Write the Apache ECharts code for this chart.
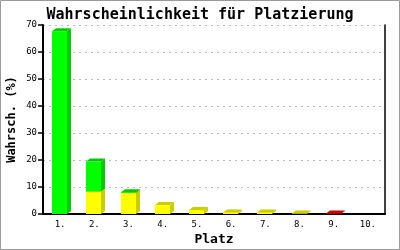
<!DOCTYPE html>
<html>
<head>
<meta charset="utf-8">
<script src="https://cdn.jsdelivr.net/npm/echarts@6/dist/echarts.min.js"></script>
<style>
html,body{margin:0;padding:0;background:#fff;}
#chart{width:400px;height:250px;}
</style>
</head>
<body>
<div id="chart"></div>
<script>
const categories = ['1.', '2.', '3.', '4.', '5.', '6.', '7.', '8.', '9.', '10.'];
const yellowValues = [0, 8.3, 7.8, 3.3, 1.5, 0.6, 0.6, 0.2, 0, 0];
const greenValues = [67.7, 11.1, 0.3, 0, 0, 0, 0, 0, 0, 0];
const redValues = [0, 0, 0, 0, 0, 0, 0, 0, 0.2, 0];
const yTicks = [0, 10, 20, 30, 40, 50, 60, 70];

const segStyles = [
  { front: '#ffff00', dark: '#cccc00' },
  { front: '#00ff00', dark: '#00cc00' },
  { front: '#ff0000', dark: '#cc0000' }
];

const data = categories.map((c, i) => [i, yellowValues[i], greenValues[i], redValues[i]]);

const MONO = '"DejaVu Sans Mono", "Liberation Mono", monospace';

function renderItem(params, api) {
  const idx = api.value(0);
  const bandW = api.size([1, 0])[0];
  const center = api.coord([idx, 0])[0];
  const fw = Math.round(bandW * 0.44);
  const left = Math.round(center - fw / 2 - 0.5);
  const right = left + fw;
  const dx = 4, dy = 3;
  const children = [];
  let base = 0;
  for (let s = 0; s < 3; s++) {
    const v = api.value(s + 1);
    if (!(v > 0)) continue;
    const y0 = api.coord([idx, base])[1];
    const y1 = api.coord([idx, base + v])[1];
    const st = segStyles[s];
    children.push({
      type: 'rect',
      shape: { x: left, y: y1, width: fw, height: y0 - y1 },
      style: { fill: st.front }
    });
    children.push({
      type: 'polygon',
      shape: { points: [[right, y0], [right, y1], [right + dx, y1 - dy], [right + dx, y0 - dy]] },
      style: { fill: st.dark }
    });
    children.push({
      type: 'polygon',
      shape: { points: [[left, y1], [left + dx, y1 - dy], [right + dx, y1 - dy], [right, y1]] },
      style: { fill: st.dark }
    });
    base += v;
  }
  return { type: 'group', children: children };
}

const chart = echarts.init(document.getElementById('chart'), null, { renderer: 'canvas' });
chart.setOption({
  animation: false,
  backgroundColor: '#ffffff',
  title: {
    text: 'Wahrscheinlichkeit für Platzierung',
    left: 'center',
    top: 3,
    textStyle: { fontFamily: MONO, fontWeight: 'bold', fontSize: 15, color: '#000' }
  },
  graphic: [{
    type: 'rect',
    shape: { x: 0.5, y: 0.5, width: 399, height: 249 },
    style: { fill: 'none', stroke: '#999999', lineWidth: 1 },
    silent: true
  }],
  grid: { left: 43, right: 15, top: 25, bottom: 36, containLabel: false, outerBoundsMode: 'none' },
  xAxis: {
    type: 'category',
    data: categories,
    boundaryGap: true,
    name: 'Platz',
    nameLocation: 'middle',
    nameGap: 19,
    nameMoveOverlap: false,
    nameTextStyle: { fontFamily: MONO, fontWeight: 'bold', fontSize: 13, color: '#000' },
    axisLine: { lineStyle: { color: '#000', width: 2 } },
    axisTick: { show: false },
    axisLabel: { fontFamily: MONO, fontSize: 9, color: '#000', margin: 6, interval: 0 },
    splitLine: { show: false }
  },
  yAxis: [{
    type: 'value',
    min: 0,
    max: 70,
    interval: 10,
    name: 'Wahrsch. (%)',
    nameLocation: 'middle',
    nameGap: 25,
    nameMoveOverlap: false,
    nameTextStyle: { fontFamily: MONO, fontWeight: 'bold', fontSize: 12, color: '#000' },
    axisLine: { show: true, lineStyle: { color: '#000', width: 2 } },
    axisTick: { show: true, length: 5, lineStyle: { color: '#000', width: 1.5 } },
    axisLabel: {
      fontFamily: MONO, fontSize: 9, color: '#000', margin: 6,
      formatter: function (v) { return yTicks.indexOf(v) >= 0 ? String(v) : ''; }
    },
    splitLine: { show: true, lineStyle: { color: '#bbbbbb', type: [2, 4], width: 1 } }
  }, {
    type: 'value',
    min: 0,
    max: 70,
    interval: 10,
    position: 'right',
    axisLine: { show: true, lineStyle: { color: '#000', width: 1.5 } },
    axisTick: { show: false },
    axisLabel: { show: false },
    splitLine: { show: false }
  }],
  series: [{
    type: 'custom',
    renderItem: renderItem,
    data: data,
    encode: { x: 0, y: [1, 2, 3] },
    clip: false
  }]
});
</script>
</body>
</html>
